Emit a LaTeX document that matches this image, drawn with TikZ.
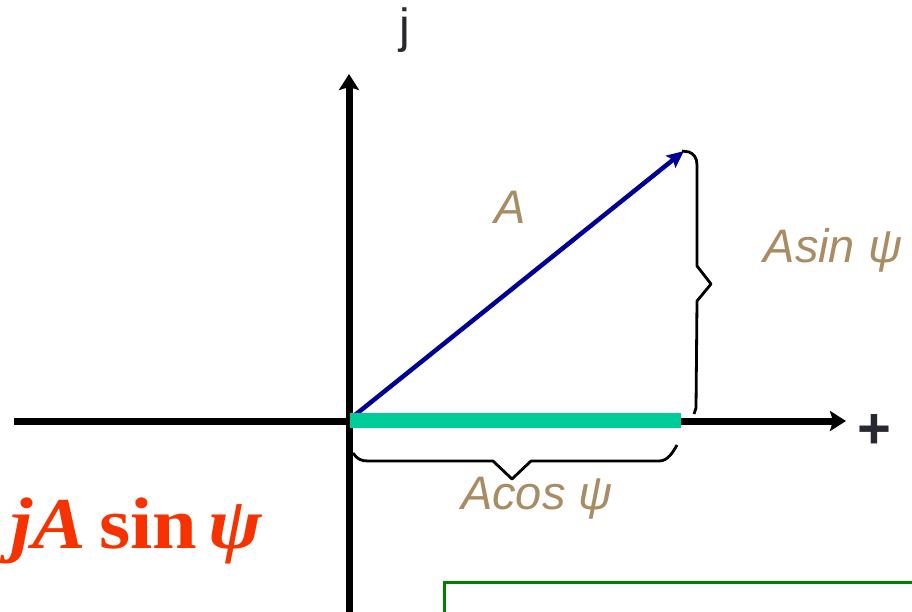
\documentclass[tikz,border=0pt]{standalone}
\usepackage{fontspec}
\usepackage{graphicx}
\setmainfont{Liberation Serif}
\newfontfamily\lsans{Liberation Sans}
\usetikzlibrary{arrows.meta}
\definecolor{labtan}{RGB}{168,140,100}
\definecolor{barteal}{RGB}{0,204,153}
\definecolor{vecblue}{RGB}{0,0,150}
\definecolor{jred}{RGB}{245,50,0}
\definecolor{boxgreen}{RGB}{0,128,0}
\definecolor{darktxt}{RGB}{40,40,50}
\tikzset{
  axis/.style={line width=7pt, -{Stealth[length=16pt,width=20pt,inset=3pt]}},
  brace/.style={line width=2.8pt, line join=round},
  lbl/.style={text=labtan, font=\lsans\itshape\fontsize{47}{56}\selectfont, inner sep=0pt, anchor=base},
}
\begin{document}
\begin{tikzpicture}[x=1pt,y=-1pt]
\useasboundingbox (0,0) rectangle (912,612);
\clip (0,0) rectangle (912,612);
% coordinates
\coordinate (O) at (349,421);
\coordinate (xl) at (14,421);
\coordinate (xr) at (846,421);
\coordinate (yb) at (349,620);
\coordinate (yt) at (349,74);
\coordinate (tip) at (684,151);
\coordinate (vs) at (355,415);
% axes
\draw[axis] (xl) -- (xr);
\draw[axis] (yb) -- (yt);
% vector
\draw[vecblue, line width=4.5pt, -{Stealth[length=17pt,width=15pt,inset=3pt]}] (vs) -- (tip);
% teal bar
\fill[barteal] (350,413) rectangle (681,428);
% right brace
\draw[brace] (682,151) -- (689,152) .. controls (694,154) and (697,158) .. (697,165)
  -- (697,266) -- (711,284) -- (697,301) -- (696,408) -- (694,414);
% bottom brace
\draw[brace] (353,453) .. controls (357,459) and (361,461) .. (368,461)
  -- (493,461) -- (512,479) -- (531,461) -- (659,461)
  .. controls (668,461) and (673,452) .. (677,445);
% green box
\draw[boxgreen, line width=3pt] (444,620) -- (444,582) -- (920,582);
% labels
\node[lbl] (lA) at (510,224) {A};
\node[lbl] (lsin) at (833,262) {Asin ψ};
\node[lbl] (lcos) at (537,509) {Acos ψ};
\node[text=darktxt, font=\lsans\fontsize{48}{56}\selectfont, inner sep=0pt, anchor=base] (lj) at (405,43) {j};
\node[text=darktxt, font=\lsans\bfseries\fontsize{58}{64}\selectfont, inner sep=0pt] (lplus) at (874,431) {+};
\node[text=jred, font=\bfseries\fontsize{73}{80}\selectfont, inner sep=0pt, anchor=base west] (ljA) at (10,548) {\scalebox{1.1}[1]{\textit{jA}\hspace{12pt}sin\hspace{10pt}\textit{ψ}}};
\end{tikzpicture}
\end{document}
